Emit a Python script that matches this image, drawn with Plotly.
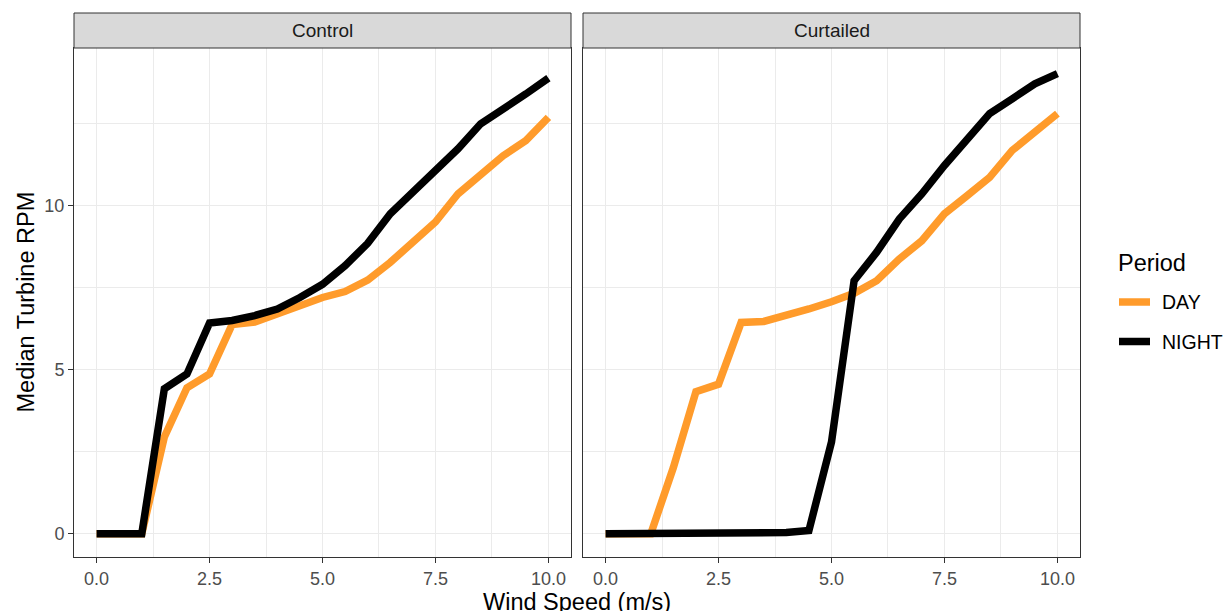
import plotly.graph_objects as go

# Wind speed bins (m/s)
wind_speed = [0.0, 0.5, 1.0, 1.5, 2.0, 2.5, 3.0, 3.5, 4.0, 4.5, 5.0,
              5.5, 6.0, 6.5, 7.0, 7.5, 8.0, 8.5, 9.0, 9.5, 10.0]

# Median turbine RPM per treatment and period
control_day = [0, 0, 0, 2.95, 4.45, 4.87, 6.38, 6.45, 6.7, 6.95, 7.2,
               7.38, 7.73, 8.27, 8.88, 9.5, 10.36, 10.91, 11.52, 11.98, 12.69]
control_night = [0, 0, 0, 4.42, 4.87, 6.42, 6.5, 6.65, 6.85, 7.2, 7.6,
                 8.17, 8.85, 9.75, 10.4, 11.07, 11.73, 12.49, 12.92, 13.4, 13.88]
curtailed_day = [0, 0, 0, 2.02, 4.33, 4.56, 6.44, 6.47, 6.65, 6.85, 7.07,
                 7.33, 7.71, 8.37, 8.93, 9.75, 10.3, 10.86, 11.68, 12.23, 12.8]
curtailed_night = [0, 0, 0, 0, 0, 0, 0, 0.02, 0.04, 0.1, 2.8,
                   7.71, 8.58, 9.59, 10.36, 11.22, 11.98, 12.8, 13.25, 13.71, 14.02]

panels = ["Control", "Curtailed"]
periods = ["DAY", "NIGHT"]
colors = {"DAY": "#FF9B2B", "NIGHT": "#000000"}
series = {
    ("Control", "DAY"): control_day,
    ("Control", "NIGHT"): control_night,
    ("Curtailed", "DAY"): curtailed_day,
    ("Curtailed", "NIGHT"): curtailed_night,
}

W, H = 1225, 611
FONT = "Liberation Sans, Arial, sans-serif"
LINE_W = 7.5

# panel extents in pixels
panel_x = [(74, 571), (583, 1080)]
plot_top, plot_bottom = 48, 557
strip_top = 13

fig = go.Figure()

for i, panel in enumerate(panels):
    xa = "x" if i == 0 else "x2"
    ya = "y" if i == 0 else "y2"
    for period in periods:
        fig.add_trace(go.Scatter(
            x=wind_speed, y=series[(panel, period)],
            mode="lines", name=period,
            line=dict(color=colors[period], width=LINE_W),
            xaxis=xa, yaxis=ya,
            legendgroup=period, showlegend=False,
        ))

y_dom = [1 - plot_bottom / H, 1 - plot_top / H]
grid = "#EBEBEB"
border = "#333333"

axis_common = dict(
    showline=True, mirror=True, linecolor=border, linewidth=1,
    showgrid=True, gridcolor=grid, gridwidth=1.1, zeroline=False,
    ticks="outside", ticklen=5, tickcolor=border, tickwidth=1,
    tickfont=dict(family=FONT, size=18, color="#4D4D4D"),
)

for i in range(2):
    sfx = "" if i == 0 else str(i + 1)
    x0, x1 = panel_x[i]
    fig.update_layout(**{
        f"xaxis{sfx}": dict(
            axis_common, domain=[x0 / W, x1 / W], range=[-0.5, 10.5],
            tickmode="array", tickvals=[0, 2.5, 5, 7.5, 10],
            ticktext=["0.0", "2.5", "5.0", "7.5", "10.0"],
            minor=dict(showgrid=True, gridcolor=grid, gridwidth=0.55,
                       tickmode="array", tickvals=[1.25, 3.75, 6.25, 8.75]),
            anchor="y" + sfx,
        ),
        f"yaxis{sfx}": dict(
            axis_common, domain=y_dom, range=[-0.705, 14.8],
            tickmode="array", tickvals=[0, 5, 10],
            showticklabels=(i == 0),
            ticks="outside" if i == 0 else "",
            minor=dict(showgrid=True, gridcolor=grid, gridwidth=0.55,
                       tickmode="array", tickvals=[2.5, 7.5, 12.5]),
            anchor="x" + sfx,
        ),
    })

# facet strips
for i, panel in enumerate(panels):
    x0, x1 = panel_x[i]
    fig.add_shape(type="rect", xref="paper", yref="paper",
                  x0=x0 / W, x1=x1 / W,
                  y0=1 - plot_top / H, y1=1 - strip_top / H,
                  fillcolor="#D9D9D9", line=dict(color=border, width=1))
    fig.add_annotation(text=panel, xref="paper", yref="paper",
                       x=(x0 + x1) / 2 / W, y=1 - (plot_top + strip_top) / 2 / H,
                       showarrow=False, xanchor="center", yanchor="middle",
                       font=dict(family=FONT, size=19, color="#1A1A1A"))

# axis titles
fig.add_annotation(text="Median Turbine RPM", xref="paper", yref="paper",
                   x=25 / W, y=1 - (plot_top + plot_bottom) / 2 / H,
                   textangle=-90, showarrow=False,
                   xanchor="center", yanchor="middle",
                   font=dict(family=FONT, size=23.5, color="#000000"))
fig.add_annotation(text="Wind Speed (m/s)", xref="paper", yref="paper",
                   x=(panel_x[0][0] + panel_x[1][1]) / 2 / W, y=1 - 602 / H,
                   showarrow=False, xanchor="center", yanchor="middle",
                   font=dict(family=FONT, size=23.5, color="#000000"))

# legend: title, colour keys and labels
leg_x0, leg_x1, leg_text_x = 1119, 1150, 1160
leg_title_y, leg_first_y, leg_step = 263, 302, 39.5
fig.add_annotation(text="Period", xref="paper", yref="paper",
                   x=1116 / W, y=1 - leg_title_y / H,
                   showarrow=False, xanchor="left", yanchor="middle",
                   font=dict(family=FONT, size=23.5, color="#000000"))
for k, period in enumerate(periods):
    yy = 1 - (leg_first_y + k * leg_step) / H
    fig.add_shape(type="line", xref="paper", yref="paper",
                  x0=leg_x0 / W, x1=leg_x1 / W, y0=yy, y1=yy,
                  line=dict(color=colors[period], width=LINE_W))
    fig.add_annotation(text=period, xref="paper", yref="paper",
                       x=leg_text_x / W, y=yy,
                       showarrow=False, xanchor="left", yanchor="middle",
                       font=dict(family=FONT, size=19.5, color="#000000"))

fig.update_layout(
    width=W, height=H,
    margin=dict(l=0, r=0, t=0, b=0),
    paper_bgcolor="white", plot_bgcolor="white",
    showlegend=False,
)

fig.write_html("out.html")
